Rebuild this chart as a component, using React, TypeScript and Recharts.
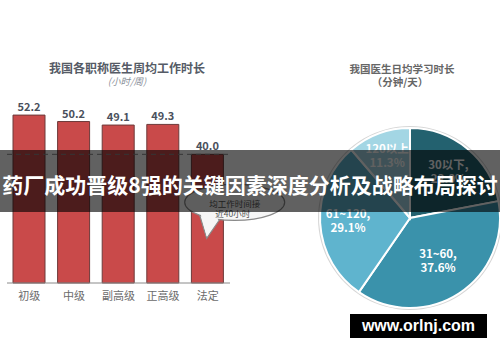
import React from 'react';
import {
  BarChart,
  Bar,
  XAxis,
  YAxis,
  LabelList,
  ReferenceLine,
  ReferenceDot,
  PieChart,
  Pie,
  Cell,
} from 'recharts';

// ---- data ----
const ranks = ['初级', '中级', '副高级', '正高级', '法定'];
const weeklyHours = [52.2, 50.2, 49.1, 49.3, 40.0];
const avgLineValue = 40;

const studyRanges = ['30以下', '31~60', '61~120', '120以上'];
const studyShares = [22.0, 37.6, 29.1, 11.3];

const barTitle = '我国各职称医生周均工作时长';
const barSubtitle = '(小时/周)';
const pieTitle = '我国医生日均学习时长';
const pieSubtitle = '（分钟/天）';
const bubbleLines = ['均工作时间接', '近40小时'];
const bannerText = '药厂成功晋级8强的关键因素深度分析及战略布局探讨';
const watermark = 'www.orlnj.com';

const barData = ranks.map((r, i) => ({ rank: r, hours: weeklyHours[i] }));
const pieData = studyRanges.map((r, i) => ({ name: r, value: studyShares[i] }));
const ringData = [{ v: 1 }];

// ---- styles ----
const FONT = '"Noto Sans CJK SC", "Noto Sans", sans-serif';
const studyColors = ['#23616f', '#3a92ab', '#5fb4ce', '#a3d6e4'];
const labelRadius = [0.67, 0.57, 0.69, 0.73];
const RAD = Math.PI / 180;

const renderPieLabel = (p: any) => {
  const { cx, cy, midAngle, outerRadius, name, value, index } = p;
  const r = outerRadius * labelRadius[index];
  const x = cx + r * Math.cos(-midAngle * RAD);
  const y = cy + r * Math.sin(-midAngle * RAD);
  const first = name === '120以上' ? name : `${name},`;
  return (
    <text
      x={x}
      y={y}
      fill="#ffffff"
      fontSize={11.5}
      fontWeight={600}
      textAnchor="middle"
      fontFamily={FONT}
    >
      <tspan x={x} dy={-3}>
        {first}
      </tspan>
      <tspan x={x} dy={14}>
        {`${Number(value).toFixed(1)}%`}
      </tspan>
    </text>
  );
};

const Bubble = (props: any) => {
  const { cx, cy } = props;
  if (cx == null || cy == null) return null;
  const ex = cx + 27;
  const ey = cy + 48;
  const rx = 50;
  const ry = 18;
  const p1 = [ex - 35, ey + 12.9];
  const tip = [ex - 28, ey + 36];
  const p2 = [ex - 15, ey + 17.2];
  return (
    <g>
      <path
        d={`M${p1[0]},${p1[1]} L${tip[0]},${tip[1]} L${p2[0]},${p2[1]}`}
        fill="#f6f6f6"
        stroke="#8a8a8a"
        strokeWidth={1.2}
      />
      <ellipse cx={ex} cy={ey} rx={rx} ry={ry} fill="#f6f6f6" stroke="#8a8a8a" strokeWidth={1.2} />
      <path
        d={`M${p1[0] + 1},${p1[1] - 1} L${tip[0]},${tip[1] - 2} L${p2[0] - 1},${p2[1] - 1} Z`}
        fill="#f6f6f6"
        stroke="none"
      />
      <text x={ex} y={ey + 5} textAnchor="middle" fontSize={8.5} fill="#555" fontFamily={FONT}>
        {bubbleLines[0]}
      </text>
      <text x={ex - 2} y={ey + 15} textAnchor="middle" fontSize={8.5} fill="#555" fontFamily={FONT}>
        {bubbleLines[1]}
      </text>
    </g>
  );
};

export default function App() {
  return (
    <div
      style={{
        position: 'absolute',
        left: 0,
        top: 0,
        width: 500,
        height: 362,
        background: '#ffffff',
        fontFamily: FONT,
        overflow: 'hidden',
      }}
    >
      {/* bar chart titles */}
      <div
        style={{
          position: 'absolute',
          left: 27,
          width: 200,
          top: 60,
          textAlign: 'center',
          fontSize: 12,
          fontWeight: 700,
          color: '#555b66',
          lineHeight: '16px',
        }}
      >
        {barTitle}
      </div>
      <div
        style={{
          position: 'absolute',
          left: 27,
          width: 200,
          top: 75,
          textAlign: 'center',
          fontSize: 9.5,
          fontStyle: 'italic',
          color: '#8a8f99',
          lineHeight: '12px',
        }}
      >
        {barSubtitle}
      </div>

      {/* pie chart titles */}
      <div
        style={{
          position: 'absolute',
          left: 302,
          width: 200,
          top: 62,
          textAlign: 'center',
          fontSize: 10.5,
          fontWeight: 700,
          color: '#666',
          lineHeight: '14px',
        }}
      >
        {pieTitle}
      </div>
      <div
        style={{
          position: 'absolute',
          left: 300,
          width: 200,
          top: 75,
          textAlign: 'center',
          fontSize: 10.5,
          fontWeight: 700,
          color: '#666',
          lineHeight: '14px',
        }}
      >
        {pieSubtitle}
      </div>

      {/* bar chart */}
      <div style={{ position: 'absolute', left: 0, top: 0 }}>
        <BarChart
          width={300}
          height={362}
          data={barData}
          margin={{ top: 90, right: 70, bottom: 49, left: 7 }}
        >
          <XAxis
            dataKey="rank"
            height={30}
            axisLine={{ stroke: '#8a8a8a' }}
            tickLine={false}
            tickSize={6}
            tickMargin={3}
            interval={0}
            tick={{ fill: '#6b6b6b', fontSize: 11, fontFamily: FONT }}
          />
          <YAxis hide domain={[0, 60]} />
          <Bar
            dataKey="hours"
            fill="#c94a4a"
            stroke="#6d3a3a"
            strokeWidth={1}
            barSize={32}
            isAnimationActive={false}
          >
            <LabelList
              dataKey="hours"
              position="top"
              offset={4}
              formatter={(v: any) => Number(v).toFixed(1)}
              fill="#4a505c"
              fontSize={11}
              fontWeight={700}
              fontFamily={FONT}
            />
          </Bar>
          <ReferenceLine y={avgLineValue} stroke="#8a8a8a" strokeDasharray="5 4" />
          <ReferenceDot x="法定" y={avgLineValue} r={0} shape={Bubble} />
        </BarChart>
      </div>

      {/* pie chart */}
      <div style={{ position: 'absolute', left: 300, top: 0 }}>
        <PieChart width={200} height={362}>
          <Pie
            data={ringData}
            dataKey="v"
            cx={105}
            cy={213}
            innerRadius={88}
            outerRadius={92}
            fill="#d6d6d6"
            stroke="none"
            isAnimationActive={false}
          />
          <Pie
            data={pieData}
            dataKey="value"
            nameKey="name"
            cx={105}
            cy={213}
            outerRadius={90}
            startAngle={90}
            endAngle={-270}
            stroke="#ffffff"
            strokeWidth={2}
            labelLine={false}
            label={renderPieLabel}
            isAnimationActive={false}
          >
            {pieData.map((d, i) => (
              <Cell key={d.name} fill={studyColors[i]} />
            ))}
          </Pie>
        </PieChart>
      </div>

      {/* dark banner */}
      <div
        style={{
          position: 'absolute',
          left: 0,
          top: 150,
          width: 500,
          height: 62,
          background: 'rgba(0,0,0,0.62)',
        }}
      />
      <div
        style={{
          position: 'absolute',
          left: 0,
          top: 170,
          width: 500,
          height: 28,
          lineHeight: '28px',
          textAlign: 'center',
          whiteSpace: 'nowrap',
          color: '#ffffff',
          fontWeight: 700,
          fontSize: 21,
        }}
      >
        {bannerText}
      </div>

      {/* watermark */}
      <div
        style={{
          position: 'absolute',
          left: 350,
          top: 314,
          width: 137,
          height: 24,
          lineHeight: '24px',
          background: '#000',
          color: '#fff',
          textAlign: 'center',
          fontWeight: 700,
          fontSize: 16,
          fontFamily: '"Liberation Sans", Arial, sans-serif',
        }}
      >
        {watermark}
      </div>
    </div>
  );
}
